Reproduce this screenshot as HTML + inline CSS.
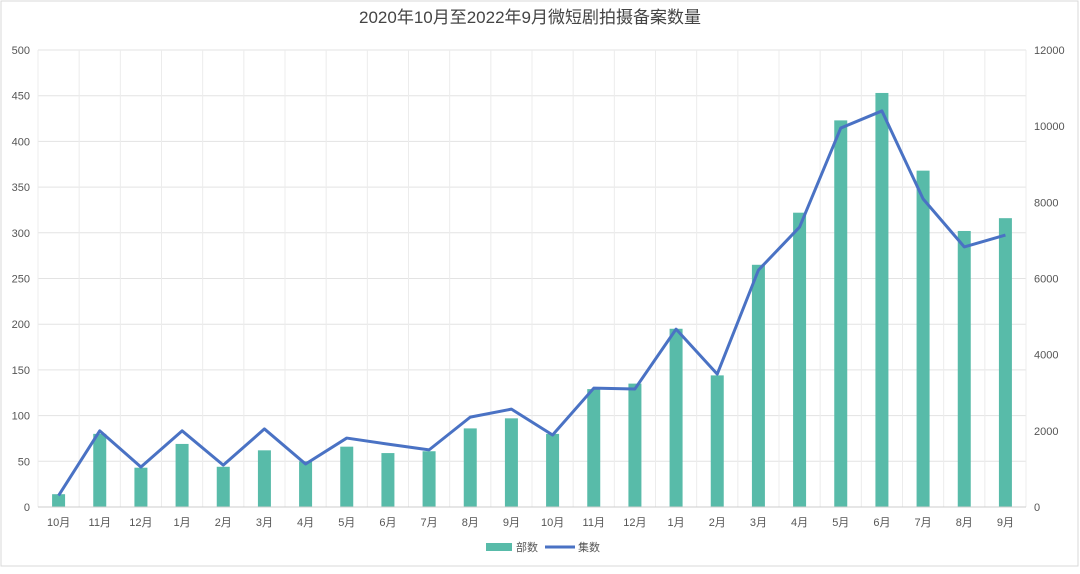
<!DOCTYPE html>
<html><head><meta charset="utf-8"><style>
body{margin:0;background:#fff;}
svg text{font-family:"Liberation Sans","Noto Sans CJK SC",sans-serif;}
</style></head><body>
<svg id="chart" width="1080" height="569" xmlns="http://www.w3.org/2000/svg">
<rect x="1" y="1" width="1077" height="565" fill="#fff" stroke="#d9d9d9"/>
<text x="530" y="23" text-anchor="middle" font-size="17" fill="#444">2020年10月至2022年9月微短剧拍摄备案数量</text>
<g id="grid"></g><g id="bars"></g><g id="line"></g><g id="axes"></g>
<g>
<rect x="486" y="543" width="26" height="8" fill="#58bba9"/>
<text x="516" y="551" font-size="11" fill="#555">部数</text>
<line x1="545" y1="547" x2="575" y2="547" stroke="#4a72c4" stroke-width="3"/>
<text x="578" y="551" font-size="11" fill="#555">集数</text>
</g>
</svg>
<script>
const categories=["10月","11月","12月","1月","2月","3月","4月","5月","6月","7月","8月","9月","10月","11月","12月","1月","2月","3月","4月","5月","6月","7月","8月","9月"];
const partsValues=[14,80,43,69,44,62,50,66,59,61,86,97,80,129,135,195,144,265,322,423,453,368,302,316];
const episodeValues=[300,2000,1050,2000,1100,2050,1130,1810,1650,1500,2360,2570,1890,3120,3100,4670,3490,6220,7350,9950,10400,8090,6830,7140];
const leftTicks=[0,50,100,150,200,250,300,350,400,450,500];
const rightTicks=[0,2000,4000,6000,8000,10000,12000];
const NS="http://www.w3.org/2000/svg";
const X0=38,X1=1026,Y0=507,Y1=50;
const band=(X1-X0)/categories.length;
const xc=i=>X0+band*(i+0.5);
const yl=v=>Y0-(v/500)*(Y0-Y1);
const yr=v=>Y0-(v/12000)*(Y0-Y1);
function mk(tag,attrs,parent){const e=document.createElementNS(NS,tag);for(const k in attrs)e.setAttribute(k,attrs[k]);document.getElementById(parent).appendChild(e);return e;}
leftTicks.forEach((t,i)=>{
 const g=mk('line',{x1:X0,x2:X1,y1:yl(t),y2:yl(t),stroke:'#e3e3e3'},'grid');
 
 
 const tx=mk('text',{x:30,y:yl(t)+4,'text-anchor':'end','font-size':11,fill:'#555'},'axes');
 tx.textContent=t;
 
 
});
rightTicks.forEach(t=>{
 const tx=mk('text',{x:1034,y:yr(t)+4,'font-size':11,fill:'#555'},'axes');
 tx.textContent=t;
 
 
});
for(let i=0;i<=categories.length;i++){
 const v=mk('line',{x1:X0+band*i,x2:X0+band*i,y1:Y1,y2:Y0,stroke:'#ececec'},'grid');
 
 
}
const ax=mk('line',{x1:X0,x2:X1,y1:Y0,y2:Y0,stroke:'#ccc'},'axes');


categories.forEach((c,i)=>{
 const b=mk('rect',{x:xc(i)-6.5,y:yl(partsValues[i]),width:13,height:Y0-yl(partsValues[i]),fill:'#58bba9'},'bars');
 
 
 const tx=mk('text',{x:xc(i),y:526,'text-anchor':'middle','font-size':11,fill:'#555'},'axes');
 tx.textContent=c;
 
 
});
const pts=episodeValues.map((v,i)=>xc(i)+','+yr(v)).join(' ');
const pl=mk('polyline',{points:pts,fill:'none',stroke:'#4a72c4','stroke-width':3,'stroke-linejoin':'round'},'line');


</script>
</body></html>
